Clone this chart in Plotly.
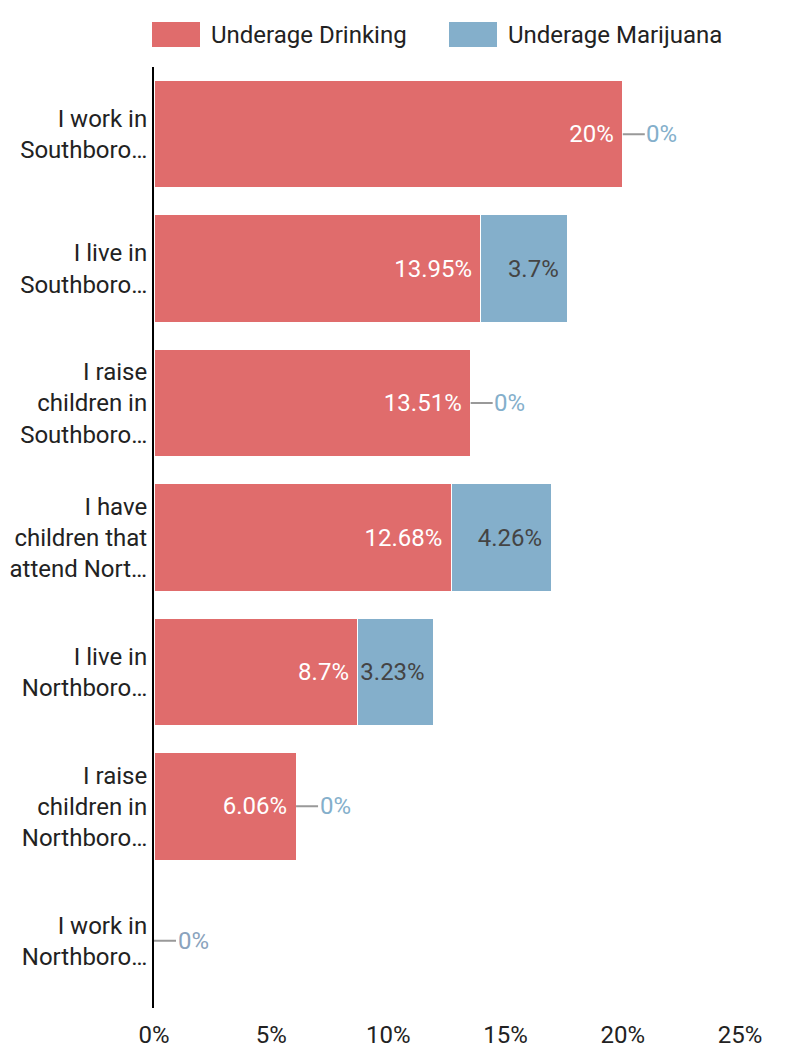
import plotly.graph_objects as go

categories = [
    "I work in<br>Southboro…",
    "I live in<br>Southboro…",
    "I raise<br>children in<br>Southboro…",
    "I have<br>children that<br>attend Nort…",
    "I live in<br>Northboro…",
    "I raise<br>children in<br>Northboro…",
    "I work in<br>Northboro…",
]
series_names = ["Underage Drinking", "Underage Marijuana"]
drinking = [20, 13.95, 13.51, 12.68, 8.7, 6.06, 0]
marijuana = [0, 3.7, 0, 4.26, 3.23, 0, 0]
x_ticks = [0, 5, 10, 15, 20, 25]

colors = ["#E06C6C", "#84AFCB"]
text_colors = ["#FFFFFF", "#444444"]
FONT = "Roboto"
FS = 24

W, H = 785, 1057
ML, MR, MT, MB = 154, 45, 67, 49
PW, PH = W - ML - MR, H - MT - MB

fig = go.Figure()
for name, vals, col, tcol in zip(series_names, [drinking, marijuana], colors, text_colors):
    fig.add_trace(go.Bar(
        y=categories, x=vals, name=name, orientation="h",
        marker=dict(color=col, line=dict(color="#FFFFFF", width=1)),
        text=[f"{v:g}%\u00a0" if v > 0 else "" for v in vals],
        textposition="inside", insidetextanchor="end", textangle=0,
        constraintext="none",
        textfont=dict(family=FONT, size=FS, color=tcol),
        showlegend=False, hoverinfo="skip",
    ))

# zero-value callouts
annotations = []
for i, cat in enumerate(categories):
    vals = [drinking[i], marijuana[i]]
    zeros = [k for k, v in enumerate(vals) if v == 0]
    if not zeros:
        continue
    end = sum(vals)
    col = colors[zeros[0]] if len(zeros) == 1 else "#8AA3BD"
    annotations.append(dict(
        x=end, y=cat, xref="x", yref="y", text="0%",
        showarrow=True, arrowhead=0, arrowwidth=2, arrowcolor="#999999",
        ax=39, ay=0, font=dict(family=FONT, size=FS, color=col),
        borderpad=1,
    ))

# legend drawn as swatches + labels
def px_x(p):
    return (p - ML) / PW

def px_y(p):
    return (H - MB - p) / PH

shapes = []
legend_x = [152, 449]
for lx, name, col in zip(legend_x, series_names, colors):
    shapes.append(dict(type="rect", xref="paper", yref="paper",
                       x0=px_x(lx), x1=px_x(lx + 48), y0=px_y(47), y1=px_y(22),
                       fillcolor=col, line=dict(width=0)))
    annotations.append(dict(x=px_x(lx + 57), y=px_y(35), xref="paper", yref="paper",
                            text=name, showarrow=False, xanchor="left", yanchor="middle",
                            font=dict(family=FONT, size=FS, color="#222222")))

fig.update_layout(
    width=W, height=H, barmode="stack", bargap=0.2,
    margin=dict(l=ML, r=MR, t=MT, b=MB, pad=0),
    paper_bgcolor="white", plot_bgcolor="white",
    font=dict(family=FONT, size=FS, color="#222222"),
    uniformtext=dict(mode="show", minsize=FS),
    xaxis=dict(range=[0, 25], tickvals=x_ticks, ticktext=[f"{t}%" for t in x_ticks],
               showgrid=False, zeroline=False, showline=False, ticks="",
               ticklabelstandoff=10, automargin=False,
               tickfont=dict(family=FONT, size=FS, color="#222222")),
    yaxis=dict(autorange="reversed", showgrid=False, zeroline=False,
               showline=True, linecolor="#000000", linewidth=2, ticks="",
               automargin=False,
               tickfont=dict(family=FONT, size=FS, color="#222222")),
    annotations=annotations, shapes=shapes,
)

fig.write_html("out.html", config={"displayModeBar": False},
               post_script="document.body.style.margin='0px';")
